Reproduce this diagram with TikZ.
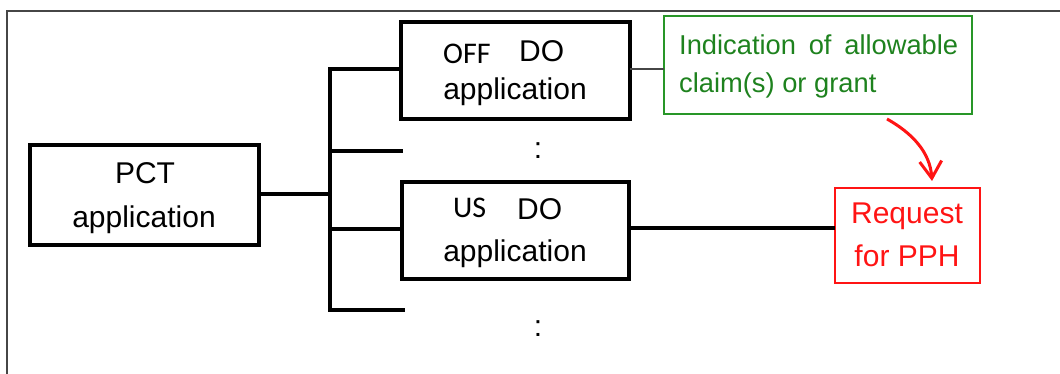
\documentclass[tikz,border=0pt]{standalone}
\usepackage{fontspec}
\setmainfont{Liberation Sans}
\newfontfamily\calfont{Carlito}
\usetikzlibrary{arrows.meta}
\definecolor{framegray}{RGB}{70,70,70}
\definecolor{boxgreen}{RGB}{40,150,40}
\definecolor{textgreen}{RGB}{30,130,30}
\definecolor{pphred}{RGB}{255,20,20}
\begin{document}
\begin{tikzpicture}[x=1pt,y=-1pt,
  blackbox/.style={draw=black, line width=3.5pt, inner sep=0pt, outer sep=0pt},
  greenbox/.style={draw=boxgreen, line width=1.5pt, inner sep=0pt, outer sep=0pt},
  redbox/.style={draw=pphred, line width=1.5pt, inner sep=0pt, outer sep=0pt},
  txt/.style={font=\fontsize{30}{36}\selectfont, inner sep=0pt, text=black},
  caltxt/.style={font=\calfont\fontsize{30}{34}\selectfont, inner sep=0pt, text=black},
  gtxt/.style={font=\fontsize{27.3}{33}\selectfont, inner sep=0pt, text=textgreen},
  rtxt/.style={font=\fontsize{30}{36}\selectfont, inner sep=0pt, text=pphred},
  conn/.style={draw=black, line width=3.2pt},
  thinconn/.style={draw=framegray, line width=2pt},
  redarrow/.style={draw=pphred, line width=3pt, -{Straight Barb[length=17pt,width=22pt,line width=3pt]}},
  framestyle/.style={draw=framegray, line width=2pt}
]
\useasboundingbox (0,0) rectangle (1060,374);
% frame
\coordinate (fr1) at (7,374);
\coordinate (fr2) at (7,11);
\coordinate (fr3) at (1060,11);
\draw[framestyle] (fr1) -- (fr2) -- (fr3);

% boxes
\node[blackbox, minimum width=229pt, minimum height=100pt] (pct) at (144.5,195) {};
\node[blackbox, minimum width=229pt, minimum height=97pt] (off) at (515.5,70.5) {};
\node[blackbox, minimum width=227pt, minimum height=97pt] (us) at (515.5,230.5) {};
\node[greenbox, minimum width=308pt, minimum height=98pt] (green) at (818,65) {};
\node[redbox, minimum width=145pt, minimum height=95pt] (red) at (907.5,235.5) {};

% texts
\node[txt, anchor=base] (pctA) at (145,184) {PCT};
\node[txt, anchor=base] (pctB) at (144,227) {application};
\node[caltxt, anchor=base west] (offA) at (443,64) {OFF};
\node[txt, anchor=base west] (offB) at (519,62) {DO};
\node[txt, anchor=base] (offC) at (515,100) {application};
\node[caltxt, anchor=base west] (usA) at (453,218) {US};
\node[txt, anchor=base west] (usB) at (517,220) {DO};
\node[txt, anchor=base] (usC) at (515,261) {application};
\node[gtxt, anchor=base west] (g1) at (679,55) {\makebox[279pt][s]{Indication of allowable}};
\node[gtxt, anchor=base west] (g2) at (679,93) {claim(s) or grant};
\node[rtxt, anchor=base] (r1) at (907,224) {Request};
\node[rtxt, anchor=base] (r2) at (907,266) {for PPH};
\node[txt, anchor=base] (dotsA) at (538,159) {:};
\node[txt, anchor=base] (dotsB) at (538,336) {:};

% tree connectors
\coordinate (trunkTop) at (330,69);
\coordinate (trunkBot) at (330,310);
\coordinate (freeA) at (403,151);
\coordinate (freeB) at (403,310);
\draw[conn] (pct.east |- 0,194) -- (330,194);
\draw[conn, line cap=rect] (off.west |- trunkTop) -- (trunkTop) -- (trunkBot) -- (freeB);
\draw[conn] (trunkTop |- freeA) -- (freeA);
\draw[conn] (330,229) -- (us.west |- 0,229);
\draw[thinconn] (off.east |- 0,69) -- (green.west |- 0,69);
\draw[conn] (us.east |- 0,228) -- (red.west |- 0,228);

% red arrow
\coordinate (arrS) at (887,119);
\coordinate (arrE) at (932,181);
\draw[redarrow] (arrS) .. controls (912,133) and (930,152) .. (arrE);
\end{tikzpicture}
\end{document}
